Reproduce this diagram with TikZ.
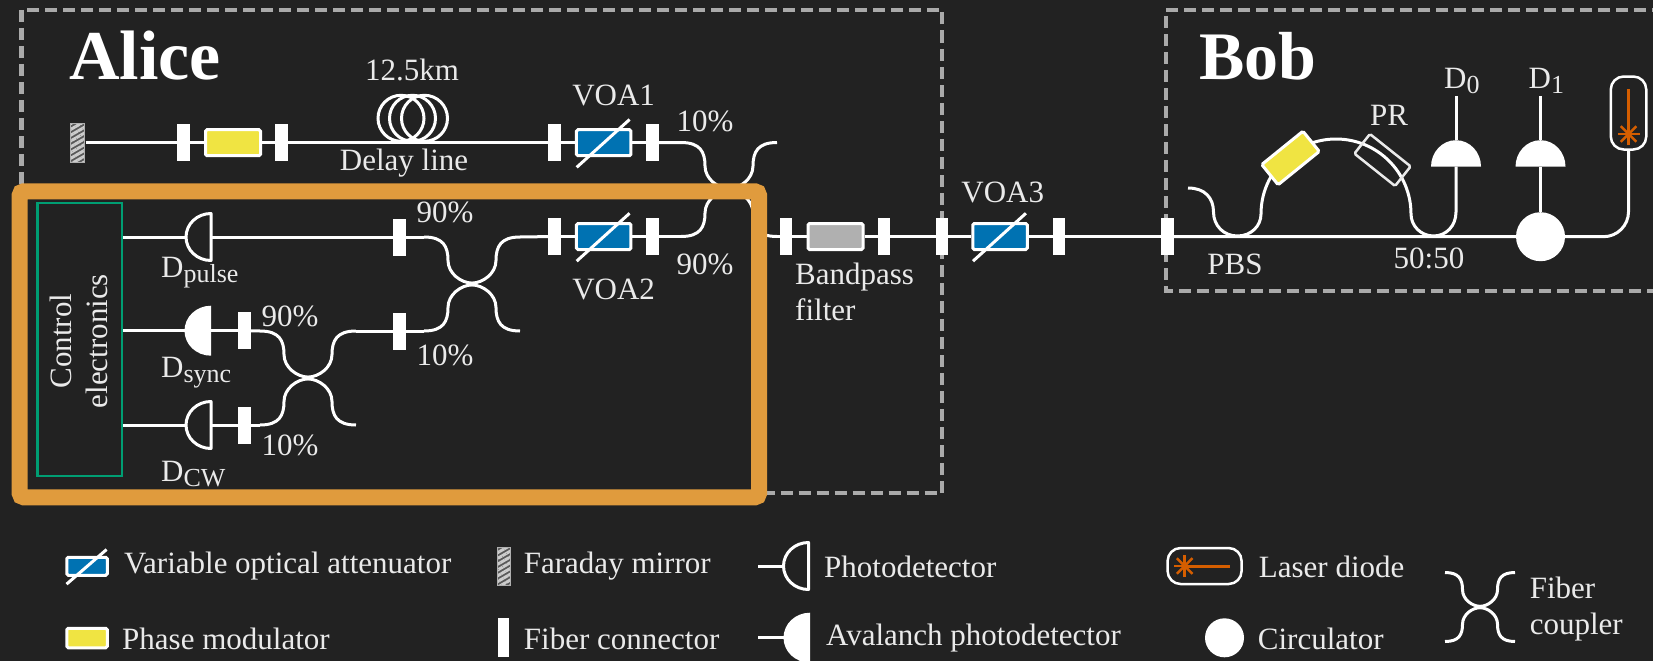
\documentclass[tikz,border=0pt]{standalone}
\usepackage{xcolor}
\usepackage{fontspec}
\setmainfont{Liberation Serif}
\usetikzlibrary{patterns.meta}
\definecolor{bgdark}{HTML}{222222}
\definecolor{dashgrey}{HTML}{AAAAAA}
\definecolor{ctrlorange}{HTML}{E09B3D}
\definecolor{ctrlgreen}{HTML}{009E73}
\definecolor{voablue}{HTML}{0072B2}
\definecolor{pmyellow}{HTML}{F0E442}
\definecolor{lasered}{HTML}{D55E00}
\definecolor{filtgrey}{HTML}{B0B0B0}
\definecolor{txtcol}{HTML}{EAEAEA}
\newcommand{\detsub}[1]{\raisebox{-5pt}{\fontsize{26}{26}\selectfont #1}}

\begin{document}
\begin{tikzpicture}[
    x=1pt, y=-1pt,
    fiber/.style={draw=white, line width=3pt},
    dashbox/.style={draw=dashgrey, line width=4.5pt, dash pattern=on 12pt off 6pt},
    conn/.style={rectangle, fill=white, inner sep=0pt, minimum width=12.5pt, minimum height=37pt},
    modbox/.style={rectangle, draw=white, line width=3pt, rounded corners=1.5pt, inner sep=0pt},
    pm/.style={modbox, fill=pmyellow, minimum width=55pt, minimum height=26pt},
    laserbox/.style={rectangle, draw=white, line width=2.5pt, rounded corners=13pt, inner sep=0pt},
    laserline/.style={draw=lasered, line width=3pt},
    mirror/.style={rectangle, draw=filtgrey, line width=1pt, inner sep=0pt,
                   preaction={fill=black!65},
                   pattern={Lines[angle=30, distance=5pt, line width=3pt]}, pattern color=black!20},
    circ/.style={circle, fill=white, inner sep=0pt},
    lbl/.style={text=txtcol, inner sep=0pt, yshift=-1.2pt, font=\fontsize{31}{36}\selectfont},
    lblc/.style={lbl, anchor=base},
    lbll/.style={lbl, anchor=base west},
    pics/voa/.style 2 args={code={
        \node[modbox, fill=voablue, minimum width=#1-3pt, minimum height=#2-3pt] (-box) {};
        \draw[fiber] ({-0.47*#1},{0.85*#2}) -- ({0.45*#1},{-0.8*#2});
    }},
    pics/det/.style={code={
        \draw[fiber, line join=round] (0,-23.5) arc[start angle=270, end angle=90, x radius=25, y radius=23.5] -- cycle;
        \coordinate (-in) at (-25,0);
        \coordinate (-out) at (0,0);
    }},
    pics/apd/.style={code={
        \fill[white] (0,-25) arc[start angle=270, end angle=90, x radius=26.5, y radius=25] -- cycle;
        \coordinate (-in) at (-26.5,0);
        \coordinate (-out) at (0,0);
    }},
    pics/coupler/.style 2 args={code={
        \foreach \s in {-1,1}{
            \draw[fiber] ({-#1},{\s*#2}) .. controls ({-0.6*#1},{\s*#2}) and ({-0.5*#1},{\s*0.8*#2}) .. ({-0.5*#1},{\s*0.5*#2})
                .. controls ({-0.5*#1},{\s*0.22*#2}) and ({-0.22*#1},{\s*0.02*#2}) .. (0,{\s*0.02*#2})
                .. controls ({0.22*#1},{\s*0.02*#2}) and ({0.5*#1},{\s*0.22*#2}) .. ({0.5*#1},{\s*0.5*#2})
                .. controls ({0.5*#1},{\s*0.8*#2}) and ({0.6*#1},{\s*#2}) .. ({#1},{\s*#2});
        }
        \coordinate (-tl) at ({-#1},{-#2});
        \coordinate (-tr) at ({#1},{-#2});
        \coordinate (-bl) at ({-#1},{#2});
        \coordinate (-br) at ({#1},{#2});
    }},
    pics/star/.style={code={
        \foreach \a in {0,45,90,135}{
            \draw[laserline, line width=2.5pt] (\a:11) -- (\a+180:11);
        }
    }}
]
\useasboundingbox (0,0) rectangle (1653,661);
\fill[bgdark] (0,0) rectangle (1653,661);

% Alice and Bob
\draw[dashbox] (21.5,10) rectangle (942,493);
\draw[dashbox] (1700,10) -- (1166,10) -- (1166,291) -- (1700,291);

% top arm
\node[mirror, minimum width=14pt, minimum height=39pt] (fm) at (77,142.7) {};
\node[conn] (conA) at (183.5,142.7) {};
\node[pm] (pmA) at (233,142.7) {};
\node[conn] (conB) at (281.5,142.7) {};
\node[conn] (conC) at (554.5,142.7) {};
\pic (voaA) at (603.7,142.7) {voa={57.5}{29}};
\node[conn] (conD) at (652.5,142.7) {};
\foreach \cx in {401,412.5,424.5}{
    \draw[fiber] (\cx,118.3) circle[radius=23];
}

% control side
\node[rectangle, draw=ctrlgreen, line width=2.5pt, minimum width=84.5pt, minimum height=273pt, inner sep=0pt] (ctrl) at (79.7,339.7) {};
\pic (dpulse) at (211,237) {det};
\pic (dsync) at (211,330.7) {apd};
\pic (dcw) at (211,425) {det};
\coordinate (ctrlA) at (ctrl.east |- 0,237);
\coordinate (ctrlB) at (ctrl.east |- 0,330.7);
\coordinate (ctrlC) at (ctrl.east |- 0,425);
\node[conn] (conE) at (399.6,237) {};
\node[conn] (conF) at (244.5,330.7) {};
\node[conn] (conG) at (244.5,425) {};
\node[conn] (conH) at (399.6,331) {};
\node[conn] (conI) at (554.5,236.5) {};
\pic (voaB) at (603.7,236.5) {voa={57.5}{29}};
\node[conn] (conJ) at (652.5,236.5) {};
\pic (cupA) at (308,378) {coupler={48}{47}};
\pic (cupB) at (472,284) {coupler={48}{47}};
\pic (cupC) at (729,189.5) {coupler={48}{47}};

% output line
\node[conn] (conK) at (786,236.5) {};
\node[modbox, fill=filtgrey, minimum width=55pt, minimum height=26pt] (filt) at (835.5,236.5) {};
\node[conn] (conL) at (884,236.5) {};
\node[conn] (conM) at (942,236.5) {};
\pic (voaC) at (1000,236.5) {voa={57.5}{29}};
\node[conn] (conN) at (1059,236.5) {};
\node[conn] (conO) at (1167.5,236.5) {};

% Bob
\node[circ, minimum size=49pt] (circA) at (1540.5,236.7) {};
\pic[rotate=-90] (dzero) at (1456,166.7) {apd};
\pic[rotate=-90] (done) at (1540.5,166.7) {apd};
\coordinate (dzerotop) at (1456,96);
\coordinate (donetop) at (1540.5,96);
\node[laserbox, minimum width=35.5pt, minimum height=73pt] (laser) at (1628.5,113) {};
\coordinate (pbsfree) at (1188,188);

\foreach \a/\b in {fm/conA, conA/pmA, pmA/conB, conB/conC, conC/voaA-box, voaA-box/conD,
                   ctrlA/dpulse-in, dpulse-out/conE, conE/cupB-tl,
                   ctrlB/dsync-in, dsync-out/conF, conF/cupA-tl,
                   ctrlC/dcw-in, dcw-out/conG, conG/cupA-bl,
                   cupA-tr/conH, conH/cupB-bl, cupB-tr/conI, conI/voaB-box, voaB-box/conJ, conJ/cupC-bl,
                   conD/cupC-tl, cupC-br/conK, conK/filt, filt/conL, conL/conM, conM/voaC-box, voaC-box/conN,
                   conN/conO, conO/circA, circA/done-out, done-in/donetop, dzero-in/dzerotop}{
    \draw[fiber] (\a) -- (\b);
}
\draw[fiber, rounded corners=25pt] (circA) -| (laser);
\draw[fiber] (pbsfree) .. controls (1205,188) and (1213.5,198) .. (1213.5,212)
    .. controls (1213.5,226) and (1224,236) .. (1237.5,236)
    .. controls (1251,236) and (1261,226) .. (1261,214)
    arc[start angle=180, end angle=360, radius=75]
    .. controls (1411,226) and (1421,236) .. (1433.5,236)
    .. controls (1446,236) and (1456,226) .. (1456,212) -- (dzero-out);
\node[modbox, fill=pmyellow, rotate=39, minimum width=53pt, minimum height=26pt] (pmB) at (1290.5,158) {};
\node[modbox, draw=txtcol, line width=2.5pt, rotate=-38.5, minimum width=52pt, minimum height=25pt] (pr) at (1382.5,160) {};
\draw[laserline] (1628.5,89) -- (1628.5,134);
\pic at (1628.5,134) {star};

% control box on top of the coupler
\draw[draw=ctrlorange, line width=16pt, rounded corners=4pt] (19.7,191.3) rectangle (759,497.3);

% labels
\node[lbll, font=\fontsize{70}{70}\selectfont\bfseries, text=white] (alice) at (69,78) {Alice};
\node[lbll, font=\fontsize{68}{68}\selectfont\bfseries, text=white] (bob) at (1199,78) {Bob};
\node[lblc] (delaylbl) at (404,169) {Delay line};
\node[lblc] (kmlbl) at (412,79) {12.5km};
\node[lblc] (voaAlbl) at (613.6,104.3) {VOA1};
\node[lblc] (voaBlbl) at (613.6,298) {VOA2};
\node[lblc] (voaClbl) at (1002.7,201.7) {VOA3};
\node[lblc] (tenA) at (705,130.7) {10\%};
\node[lblc] (ninA) at (705,273.3) {90\%};
\node[lblc] (ninB) at (445,221.7) {90\%};
\node[lblc] (tenB) at (445,364) {10\%};
\node[lblc] (ninC) at (290,325) {90\%};
\node[lblc] (tenC) at (290,454) {10\%};
\node[lbll] (dpulselbl) at (161,276) {D\detsub{pulse}};
\node[lbll] (dsynclbl) at (161,376) {D\detsub{sync}};
\node[lbll] (dcwlbl) at (161,480) {D\detsub{CW}};
\node[lbl, rotate=90, align=center] (ctrllbl) at (79,340) {Control\\electronics};
\node[lbl, align=left, anchor=north west] (filtlbl) at (795,262) {Bandpass\\filter};
\node[lblc] (pbslbl) at (1235,273) {PBS};
\node[lblc] (ratiolbl) at (1429,267.7) {50:50};
\node[lblc] (prlbl) at (1389,124) {PR};
\node[lbll] (dzerolbl) at (1444,87.3) {D\detsub{0}};
\node[lbll] (donelbl) at (1528.5,87.3) {D\detsub{1}};

% legend
\pic (legvoa) at (87,566.3) {voa={43.5}{21}};
\node[lbll] (legvoalbl) at (124,572.3) {Variable optical attenuator};
\node[modbox, fill=pmyellow, minimum width=40.5pt, minimum height=19.5pt] (legpm) at (87,638) {};
\node[lbll] (legpmlbl) at (122,648.3) {Phase modulator};
\node[mirror, minimum width=13pt, minimum height=38pt] (legfm) at (503.5,566) {};
\node[lbll] (legfmlbl) at (523.7,572.3) {Faraday mirror};
\node[conn, minimum width=11.7pt, minimum height=39pt] (legcon) at (503.5,637.8) {};
\node[lbll] (legconlbl) at (523.7,648.3) {Fiber connector};
\pic (legdet) at (808.5,566) {det};
\coordinate (legdetfree) at (758.4,566);
\draw[fiber] (legdetfree) -- (legdet-in);
\node[lbll] (legdetlbl) at (824,576) {Photodetector};
\pic (legapd) at (810,637.7) {apd};
\coordinate (legapdfree) at (758.4,637.7);
\draw[fiber] (legapdfree) -- (legapd-in);
\node[lbll] (legapdlbl) at (826,644.3) {Avalanch photodetector};
\node[laserbox, minimum width=74pt, minimum height=36pt] (leglaser) at (1204.6,566) {};
\draw[laserline] (1184.7,566) -- (1230,566);
\pic at (1184.7,566) {star};
\node[lbll] (leglaserlbl) at (1258.7,576) {Laser diode};
\node[circ, minimum size=39pt] (legcirc) at (1224.5,637.8) {};
\node[lbll] (legcirclbl) at (1257.7,648.3) {Circulator};
\pic (legcup) at (1480,607) {coupler={35}{34.5}};
\node[lbl, align=left, anchor=base west] (legcuplbl) at (1529.6,633.3) {Fiber\\coupler};
\end{tikzpicture}
\end{document}
